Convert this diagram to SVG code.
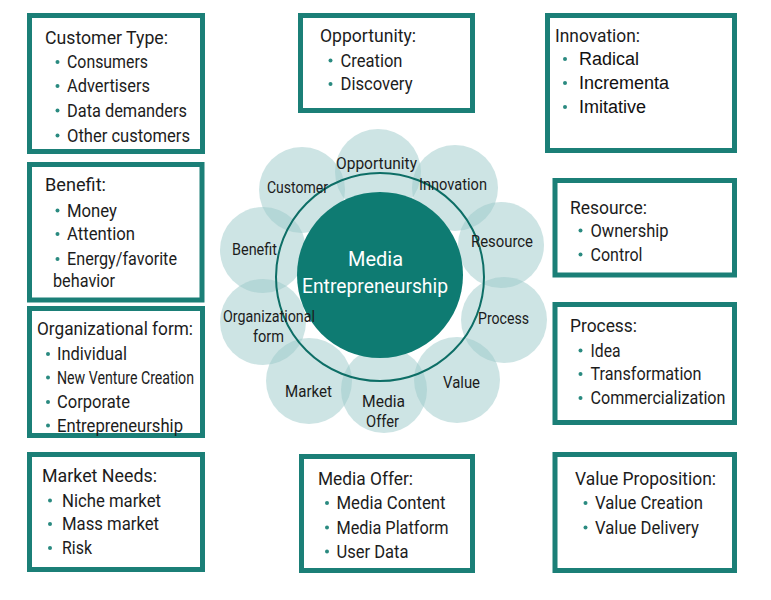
<svg xmlns="http://www.w3.org/2000/svg" width="771" height="600" viewBox="0 0 771 600">
<style>
.box{fill:#fff;stroke:#1b7f77;stroke-width:5}
.t{font-family:Roboto,"Liberation Sans",sans-serif;font-size:18px;fill:#1c1c1c}
.a{font-family:"Liberation Sans",Arial,sans-serif;font-size:18px;fill:#111}
.b{fill:#2a8a80}
.sat{fill:#9ccaca;fill-opacity:0.5}
.lb{font-family:Roboto,"Liberation Sans",sans-serif;font-size:16px;fill:#1c1c1c}
.ct{font-family:Roboto,"Liberation Sans",sans-serif;font-size:20px;fill:#fff}
</style>
<rect width="771" height="600" fill="#fff"/>

<g id="hub">
<g id="satellites">
<circle class="sat" cx="378" cy="172" r="43"/>
<circle class="sat" cx="455" cy="188" r="43"/>
<circle class="sat" cx="501" cy="245" r="43"/>
<circle class="sat" cx="504" cy="320" r="43"/>
<circle class="sat" cx="457" cy="380" r="43"/>
<circle class="sat" cx="384" cy="390" r="43"/>
<circle class="sat" cx="309" cy="381" r="43"/>
<circle class="sat" cx="263" cy="322" r="43"/>
<circle class="sat" cx="263" cy="250" r="43"/>
<circle class="sat" cx="302" cy="190" r="43"/>
</g>
<circle cx="380" cy="277" r="104" fill="none" stroke="#0d6e66" stroke-width="2"/>
<circle cx="380" cy="275" r="83" fill="#0e7b72"/>
<text class="ct" x="348" y="266" textLength="55" lengthAdjust="spacingAndGlyphs">Media</text>
<text class="ct" x="302" y="293" textLength="146" lengthAdjust="spacingAndGlyphs">Entrepreneurship</text>
<text class="lb" x="336" y="169" textLength="81" lengthAdjust="spacingAndGlyphs">Opportunity</text>
<text class="lb" x="419" y="190" textLength="68" lengthAdjust="spacingAndGlyphs">Innovation</text>
<text class="lb" x="471" y="247" textLength="62" lengthAdjust="spacingAndGlyphs">Resource</text>
<text class="lb" x="478" y="324" textLength="51" lengthAdjust="spacingAndGlyphs">Process</text>
<text class="lb" x="443" y="388" textLength="37" lengthAdjust="spacingAndGlyphs">Value</text>
<text class="lb" x="362" y="407" textLength="43" lengthAdjust="spacingAndGlyphs">Media</text>
<text class="lb" x="366" y="427" textLength="33" lengthAdjust="spacingAndGlyphs">Offer</text>
<text class="lb" x="285" y="397" textLength="47" lengthAdjust="spacingAndGlyphs">Market</text>
<text class="lb" x="223" y="322" textLength="92" lengthAdjust="spacingAndGlyphs">Organizational</text>
<text class="lb" x="253" y="342" textLength="31" lengthAdjust="spacingAndGlyphs">form</text>
<text class="lb" x="232" y="255" textLength="45" lengthAdjust="spacingAndGlyphs">Benefit</text>
<text class="lb" x="267" y="193" textLength="61" lengthAdjust="spacingAndGlyphs">Customer</text>
</g>

<g id="customer-type">
<rect class="box" x="29.5" y="15.5" width="173" height="136"/>
<text class="t" x="45" y="43.5" textLength="123" lengthAdjust="spacingAndGlyphs">Customer Type:</text>
<circle class="b" cx="57.5" cy="62" r="2"/><text class="t" x="67" y="68" textLength="81" lengthAdjust="spacingAndGlyphs">Consumers</text>
<circle class="b" cx="57.5" cy="86" r="2"/><text class="t" x="67" y="92" textLength="83" lengthAdjust="spacingAndGlyphs">Advertisers</text>
<circle class="b" cx="57.5" cy="110.5" r="2"/><text class="t" x="67" y="116.5" textLength="120" lengthAdjust="spacingAndGlyphs">Data demanders</text>
<circle class="b" cx="57.5" cy="135.5" r="2"/><text class="t" x="67" y="141.5" textLength="123" lengthAdjust="spacingAndGlyphs">Other customers</text>
</g>

<g id="benefit">
<rect class="box" x="29.5" y="164.5" width="172.5" height="135.5"/>
<text class="t" x="45" y="191" textLength="61" lengthAdjust="spacingAndGlyphs">Benefit:</text>
<circle class="b" cx="57.5" cy="210.5" r="2"/><text class="t" x="67" y="216.5" textLength="50" lengthAdjust="spacingAndGlyphs">Money</text>
<circle class="b" cx="57.5" cy="234" r="2"/><text class="t" x="67" y="240" textLength="68" lengthAdjust="spacingAndGlyphs">Attention</text>
<circle class="b" cx="57.5" cy="259" r="2"/><text class="t" x="67" y="265" textLength="110" lengthAdjust="spacingAndGlyphs">Energy/favorite</text>
<text class="t" x="53" y="287" textLength="62" lengthAdjust="spacingAndGlyphs">behavior</text>
</g>

<g id="organizational-form">
<rect class="box" x="29.5" y="308.5" width="173" height="127"/>
<text class="t" x="37" y="335" textLength="156" lengthAdjust="spacingAndGlyphs">Organizational form:</text>
<circle class="b" cx="48" cy="354" r="2"/><text class="t" x="57" y="360" textLength="70" lengthAdjust="spacingAndGlyphs">Individual</text>
<circle class="b" cx="48" cy="377.5" r="2"/><text class="t" x="57" y="383.5" textLength="137" lengthAdjust="spacingAndGlyphs">New Venture Creation</text>
<circle class="b" cx="48" cy="402" r="2"/><text class="t" x="57" y="408" textLength="73" lengthAdjust="spacingAndGlyphs">Corporate</text>
<circle class="b" cx="48" cy="425.5" r="2"/><text class="t" x="57" y="431.5" textLength="126" lengthAdjust="spacingAndGlyphs">Entrepreneurship</text>
</g>

<g id="market-needs">
<rect class="box" x="29.5" y="454.5" width="173" height="115"/>
<text class="t" x="42" y="481.5" textLength="115" lengthAdjust="spacingAndGlyphs">Market Needs:</text>
<circle class="b" cx="50" cy="500.5" r="2"/><text class="t" x="62" y="506.5" textLength="99" lengthAdjust="spacingAndGlyphs">Niche market</text>
<circle class="b" cx="50" cy="524" r="2"/><text class="t" x="62" y="530" textLength="97" lengthAdjust="spacingAndGlyphs">Mass market</text>
<circle class="b" cx="50" cy="548" r="2"/><text class="t" x="62" y="554" textLength="30" lengthAdjust="spacingAndGlyphs">Risk</text>
</g>

<g id="opportunity">
<rect class="box" x="300.5" y="15.5" width="172" height="95"/>
<text class="t" x="320" y="41.5" textLength="96" lengthAdjust="spacingAndGlyphs">Opportunity:</text>
<circle class="b" cx="330.5" cy="60.5" r="2"/><text class="t" x="340.5" y="66.5" textLength="62" lengthAdjust="spacingAndGlyphs">Creation</text>
<circle class="b" cx="330.5" cy="84" r="2"/><text class="t" x="340.5" y="90" textLength="72" lengthAdjust="spacingAndGlyphs">Discovery</text>
</g>

<g id="media-offer">
<rect class="box" x="301.5" y="456.5" width="171" height="114"/>
<text class="t" x="318" y="484.5" textLength="95" lengthAdjust="spacingAndGlyphs">Media Offer:</text>
<circle class="b" cx="327" cy="503" r="2"/><text class="t" x="336.5" y="509" textLength="109" lengthAdjust="spacingAndGlyphs">Media Content</text>
<circle class="b" cx="327" cy="527.5" r="2"/><text class="t" x="336.5" y="533.5" textLength="112" lengthAdjust="spacingAndGlyphs">Media Platform</text>
<circle class="b" cx="327" cy="551.5" r="2"/><text class="t" x="336.5" y="557.5" textLength="72" lengthAdjust="spacingAndGlyphs">User Data</text>
</g>

<g id="innovation">
<rect class="box" x="547.5" y="15.5" width="187" height="135"/>
<text class="t" x="555" y="41.5" textLength="85" lengthAdjust="spacingAndGlyphs">Innovation:</text>
<circle class="b" cx="565" cy="59" r="2"/><text class="a" x="579" y="65">Radical</text>
<circle class="b" cx="565" cy="83" r="2"/><text class="a" x="579" y="89">Incrementa</text>
<circle class="b" cx="565" cy="107" r="2"/><text class="a" x="579" y="113">Imitative</text>
</g>

<g id="resource">
<rect class="box" x="555" y="180.5" width="179.5" height="94.5"/>
<text class="t" x="570" y="213.5" textLength="77" lengthAdjust="spacingAndGlyphs">Resource:</text>
<circle class="b" cx="580.5" cy="230.5" r="2"/><text class="t" x="590.5" y="236.5" textLength="78" lengthAdjust="spacingAndGlyphs">Ownership</text>
<circle class="b" cx="580.5" cy="254.5" r="2"/><text class="t" x="590.5" y="260.5" textLength="52" lengthAdjust="spacingAndGlyphs">Control</text>
</g>

<g id="process">
<rect class="box" x="555" y="304.5" width="179.5" height="118"/>
<text class="t" x="570" y="331.5" textLength="67" lengthAdjust="spacingAndGlyphs">Process:</text>
<circle class="b" cx="580.5" cy="350.5" r="2"/><text class="t" x="590.5" y="356.5" textLength="30" lengthAdjust="spacingAndGlyphs">Idea</text>
<circle class="b" cx="580.5" cy="374" r="2"/><text class="t" x="590.5" y="380" textLength="111" lengthAdjust="spacingAndGlyphs">Transformation</text>
<circle class="b" cx="580.5" cy="398" r="2"/><text class="t" x="590.5" y="404" textLength="135" lengthAdjust="spacingAndGlyphs">Commercialization</text>
</g>

<g id="value-proposition">
<rect class="box" x="555" y="454.5" width="179.5" height="116"/>
<text class="t" x="575" y="485" textLength="141" lengthAdjust="spacingAndGlyphs">Value Proposition:</text>
<circle class="b" cx="585.5" cy="503" r="2"/><text class="t" x="595" y="509" textLength="108" lengthAdjust="spacingAndGlyphs">Value Creation</text>
<circle class="b" cx="585.5" cy="527.5" r="2"/><text class="t" x="595" y="533.5" textLength="104" lengthAdjust="spacingAndGlyphs">Value Delivery</text>
</g>

<g id="connectors"></g>
</svg>
